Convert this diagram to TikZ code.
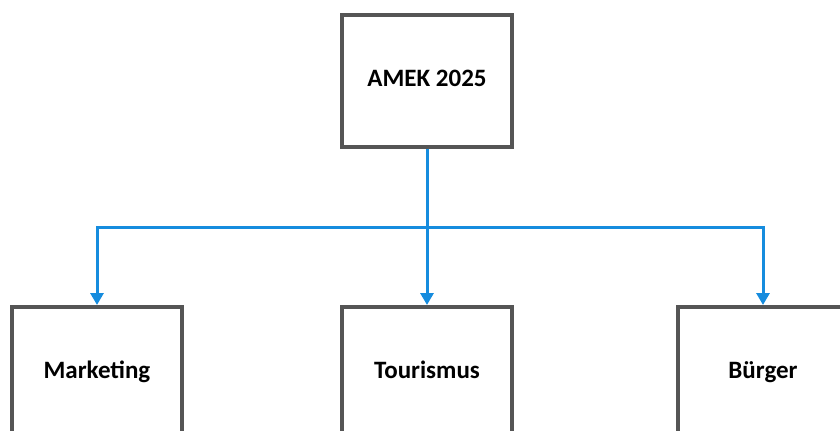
\documentclass[tikz,border=0pt]{standalone}
\usepackage{fontspec}
\setmainfont{Carlito}
\usetikzlibrary{arrows.meta}
\definecolor{boxgray}{RGB}{85,85,85}
\definecolor{linkblue}{RGB}{22,140,222}
\tikzstyle{unit}=[draw=boxgray,line width=2pt,fill=white,minimum width=85pt,minimum height=66pt,inner sep=0pt,text height=1.7ex,text depth=0.5ex,font=\bfseries\fontsize{12.5}{15}\selectfont]
\tikzstyle{link} = [draw,line width=1.5pt,linkblue,line join=miter]
\tikzstyle{arrow link} = [link,-{Triangle[length=6pt,width=6.5pt]}]

\begin{document}
\begin{tikzpicture}[x=0.5pt,y=-0.5pt]
	\useasboundingbox (0,0) rectangle (840,430);
	\clip (0,0) rectangle (840,430);
	% First we draw the boxes
	\node[unit] (amek) at (427,80.5) {AMEK 2025};
	\foreach \pos/\name/\lbl in {{(97,373)/marketing/Marketing}, {(427,373)/tourismus/Tourismus}, {(763,373)/buerger/B\"urger}}
	\node[unit] (\name) at \pos {\lbl};

	% Split point of the blue lines
	\coordinate (split) at (427,227);
	\path[link] (amek.south) -- (split);

	% Connect the split point with each box below
	\foreach \dest in {marketing, tourismus, buerger}
	\path[arrow link] (split) -| (\dest.north);
\end{tikzpicture}
\end{document}
